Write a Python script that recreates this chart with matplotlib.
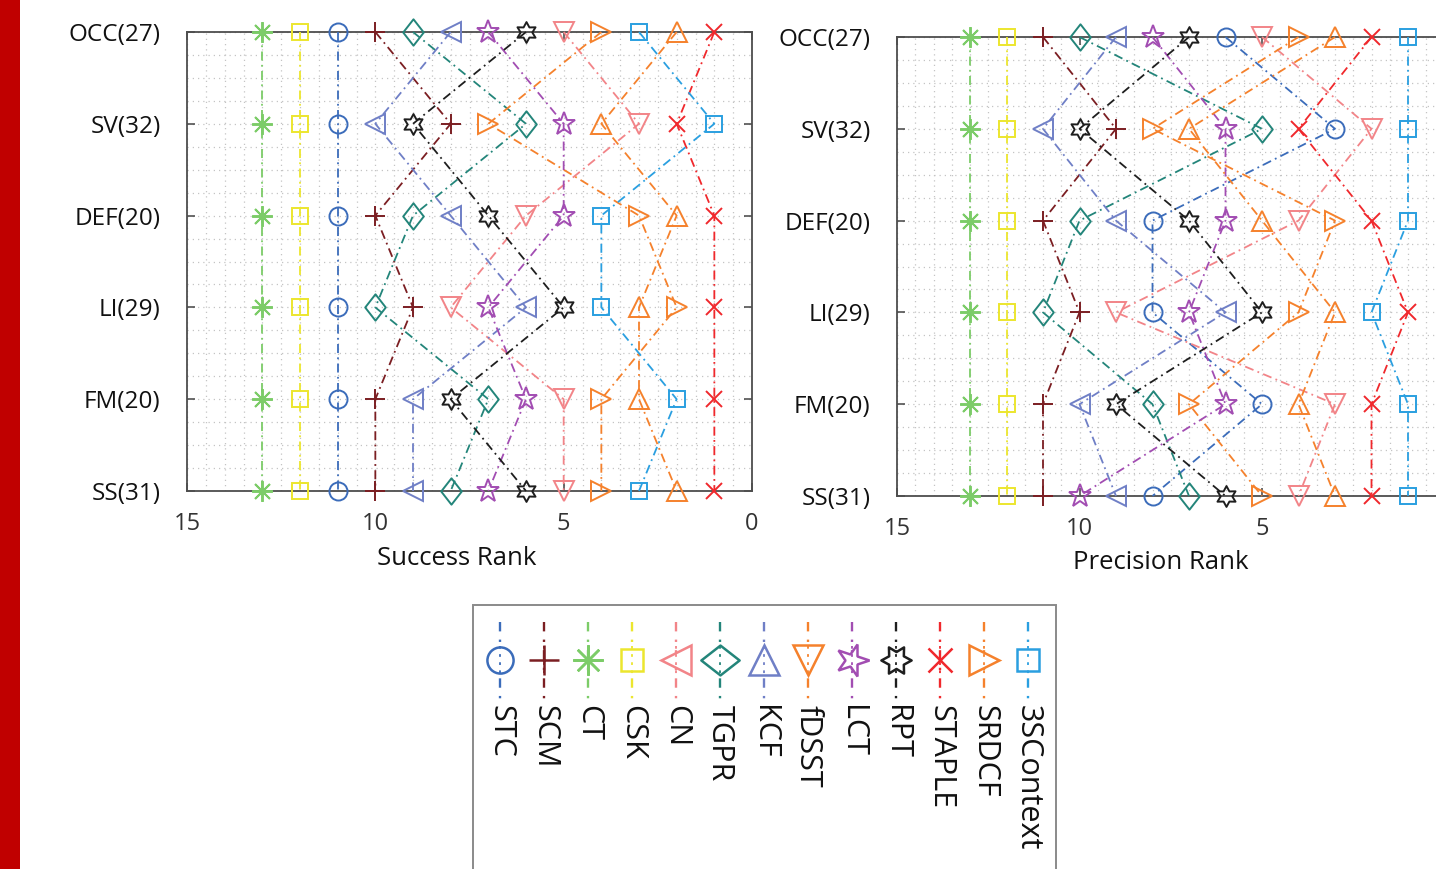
import matplotlib
matplotlib.use("Agg")
import matplotlib.pyplot as plt
from matplotlib.markers import MarkerStyle
from matplotlib.path import Path
from matplotlib.transforms import Affine2D
from matplotlib.patches import Rectangle
from matplotlib.lines import Line2D

plt.rcParams['font.family'] = ['Open Sans', 'DejaVu Sans']

# Attribute groups (number of sequences), top to bottom
attributes = ['OCC(27)', 'SV(32)', 'DEF(20)', 'LI(29)', 'FM(20)', 'SS(31)']

trackers = ['STC', 'SCM', 'CT', 'CSK', 'CN', 'TGPR', 'KCF', 'fDSST',
            'LCT', 'RPT', 'STAPLE', 'SRDCF', '3SContext']

rank_ticks = [15, 10, 5, 0]

# Success-plot rank of each tracker per attribute (OCC, SV, DEF, LI, FM, SS)
success_rank = {
    'STC':       [11, 11, 11, 11, 11, 11],
    'SCM':       [10, 8, 10, 9, 10, 10],
    'CT':        [13, 13, 13, 13, 13, 13],
    'CSK':       [12, 12, 12, 12, 12, 12],
    'CN':        [5, 3, 6, 8, 5, 5],
    'TGPR':      [9, 6, 9, 10, 7, 8],
    'KCF':       [8, 10, 8, 6, 9, 9],
    'fDSST':     [4, 7, 3, 2, 4, 4],
    'LCT':       [7, 5, 5, 7, 6, 7],
    'RPT':       [6, 9, 7, 5, 8, 6],
    'STAPLE':    [1, 2, 1, 1, 1, 1],
    'SRDCF':     [2, 4, 2, 3, 3, 2],
    '3SContext': [3, 1, 4, 4, 2, 3],
}

# Precision-plot rank of each tracker per attribute
precision_rank = {
    'STC':       [6, 3, 8, 8, 5, 8],
    'SCM':       [11, 9, 11, 10, 11, 11],
    'CT':        [13, 13, 13, 13, 13, 13],
    'CSK':       [12, 12, 12, 12, 12, 12],
    'CN':        [5, 2, 4, 9, 3, 4],
    'TGPR':      [10, 5, 10, 11, 8, 7],
    'KCF':       [9, 11, 9, 6, 10, 9],
    'fDSST':     [4, 8, 3, 4, 7, 5],
    'LCT':       [8, 6, 6, 7, 6, 10],
    'RPT':       [7, 10, 7, 5, 9, 6],
    'STAPLE':    [2, 4, 2, 1, 2, 2],
    'SRDCF':     [3, 7, 5, 3, 4, 3],
    '3SContext': [1, 1, 1, 2, 1, 1],
}

# Marker shapes
diamond = Path([(0, 1), (0.78, 0), (0, -1), (-0.78, 0), (0, 1)],
               [Path.MOVETO, Path.LINETO, Path.LINETO, Path.LINETO, Path.CLOSEPOLY])
hexagram = Path.unit_regular_star(6, innerCircle=0.56)
asterisk = (8, 2, 0)

style = {
    'STC':       dict(color='#3b6cba', marker='o', ms=13),
    'SCM':       dict(color='#7b1e22', marker='+', ms=15),
    'CT':        dict(color='#7ccc68', marker=asterisk, ms=15),
    'CSK':       dict(color='#ece62e', marker='s', ms=11),
    'CN':        dict(color='#f28488', marker='v', ms=15),
    'TGPR':      dict(color='#23857a', marker=diamond, ms=19),
    'KCF':       dict(color='#6f7fc6', marker='<', ms=15),
    'fDSST':     dict(color='#f5812c', marker='>', ms=15),
    'LCT':       dict(color='#a24db2', marker='*', ms=17),
    'RPT':       dict(color='#1e1e1e', marker=hexagram, ms=15),
    'STAPLE':    dict(color='#f0282c', marker='x', ms=12),
    'SRDCF':     dict(color='#f5812c', marker='^', ms=15),
    '3SContext': dict(color='#2a9fe0', marker='s', ms=11),
}

dashdot = (0, (5, 2.4, 1, 2.4))
LW = 1.3
TEXT = '#111111'

W, H = 1436, 869
fig = plt.figure(figsize=(W / 100, H / 100), dpi=100)


def frac(x0, y_top, x1, y_bot):
    return [x0 / W, 1 - y_bot / H, (x1 - x0) / W, (y_bot - y_top) / H]


def rank_panel(ax, ranks, xlabel, label_xy, tick_labels):
    rows = list(range(len(attributes)))
    for name in trackers:
        st = style[name]
        ax.plot(ranks[name], rows, linestyle=dashdot, lw=LW, color=st['color'],
                marker=st['marker'], ms=st['ms'], mfc='none', mec=st['color'],
                mew=1.4, clip_on=False, zorder=3)
    ax.set_xlim(15, 0)
    ax.set_ylim(len(attributes) - 1, 0)
    ax.set_xticks(rank_ticks)
    ax.set_xticklabels(tick_labels)
    ax.set_xticks([v / 2 for v in range(31)], minor=True)
    ax.set_yticks(rows)
    ax.set_yticks([r / 4 for r in range(21)], minor=True)
    ax.set_yticklabels(attributes)
    ax.grid(True, which='both', linestyle=(0, (1, 3.2)), color='#c4c4c4', lw=0.9)
    ax.set_axisbelow(True)
    ax.tick_params(which='major', direction='in', length=6, width=1.1,
                   color='#444444', top=True, right=True)
    ax.tick_params(which='minor', length=0)
    ax.tick_params(axis='y', labelsize=17.5, pad=19, labelcolor=TEXT)
    ax.tick_params(axis='x', labelsize=17, pad=15, labelcolor='#333333')
    for sp in ax.spines.values():
        sp.set_color('#4d4d4d')
        sp.set_linewidth(1.3)
    ax.set_xlabel(xlabel, fontsize=18.5, color=TEXT)
    ax.xaxis.set_label_coords(*label_xy)
    ax.xaxis.label.set_va('top')


ax1 = fig.add_axes(frac(187, 32, 752, 491))
rank_panel(ax1, success_rank, 'Success Rank', ((457 - 187) / 565, (491 - 546) / 459),
           [str(t) for t in rank_ticks])

# The right panel's rank axis runs past the figure edge, so its 0 stays unlabeled
ax2 = fig.add_axes(frac(897, 37, 1444.5, 496))
rank_panel(ax2, precision_rank, 'Precision Rank', ((1161 - 897) / 547.5, (496 - 550) / 459),
           [str(t) for t in rank_ticks[:-1]] + [''])

# Overlay in pixel coordinates: side bar and the vertical legend
ov = fig.add_axes([0, 0, 1, 1])
ov.set_xlim(0, W)
ov.set_ylim(H, 0)
ov.axis('off')
ov.add_patch(Rectangle((0, 0), 20, H, color='#c00000', lw=0))
ov.add_patch(Rectangle((473, 605), 583, 300, facecolor='white',
                       edgecolor='#8a8a8a', lw=1.4, clip_on=False))

rot = Affine2D().rotate_deg(-90)
for i, name in enumerate(trackers):
    st = style[name]
    x = 500 + 44 * i
    ov.add_line(Line2D([x, x], [622, 699], linestyle=(0, (4, 3.5, 1, 3.5)),
                       lw=LW * 1.3, color=st['color']))
    ov.plot([x], [660], linestyle='none',
            marker=MarkerStyle(st['marker'], transform=rot), ms=st['ms'] * 1.45,
            mfc='white', mec=st['color'], mew=1.8)
    ov.add_line(Line2D([x, x], [646, 674], lw=LW, color=st['color'],
                       linestyle=(0, (1.5, 3))))
    ov.text(x, 705, name, rotation=270, ha='center', va='top',
            fontsize=22, color=TEXT)

fig.savefig('out.png', dpi=100)
